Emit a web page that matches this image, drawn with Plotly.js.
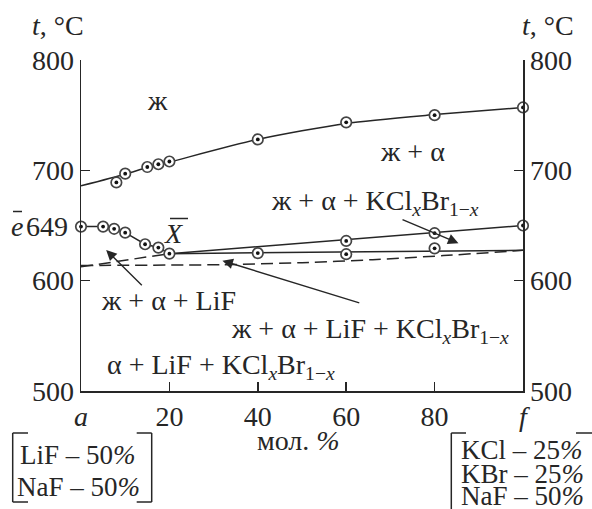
<!DOCTYPE html>
<html>
<head>
<meta charset="utf-8">
<script src="https://cdn.plot.ly/plotly-3.0.1.min.js"></script>
<style>
  html, body { margin: 0; padding: 0; background: #fff; }
  #chart { width: 592px; height: 509px; }
</style>
</head>
<body>
<div id="chart"></div>
<script>
// Liquidus (primary crystallisation of alpha) – measured points and fitted curve
const liquidusPtsX = [8, 10, 15, 17.5, 20, 40, 60, 80, 100];
const liquidusPtsY = [689, 697, 703, 705.5, 708, 728, 743.5, 750, 757];
const liquidusLineX = [0, 10, 15, 20, 40, 60, 80, 100];
const liquidusLineY = [686, 696.5, 702.5, 707.5, 728, 742.5, 750.5, 757];

// Secondary crystallisation branch from eutectic e (649) to point X
const branchX = [0, 5, 7.5, 10, 14.5, 17.5, 20];
const branchY = [649, 649, 647, 643.5, 633, 630, 624.5];

// Line X – f (alpha + KClxBr1-x co-crystallisation)
const upperLineX = [20, 100];
const upperLineY = [624.5, 650];
const upperPtsX = [60, 80, 100];
const upperPtsY = [636, 643, 650];

// Four-phase (alpha + LiF + KClxBr1-x) line
const lowerLineX = [20, 100];
const lowerLineY = [624.5, 627.5];
const lowerPtsX = [40, 60, 80];
const lowerPtsY = [625, 624, 629.3];

// Solidus lines (dashed)
const solidus1X = [0, 20];
const solidus1Y = [612.5, 624.5];
const solidus2X = [0, 32, 50, 66, 82, 100];
const solidus2Y = [613.8, 614.5, 616.3, 619, 622.7, 627.5];

// Axis ticks
const xTickVals = [0, 20, 40, 60, 80, 100];
const xTickText = ['<i>a</i>', '20', '40', '60', '80', '<i>f</i>'];
const yTickVals = [500, 600, 700, 800];
const eutecticT = 649;

const FONT = 'Liberation Serif';
const INK = '#262626';
const FS = 28;

// plot-area pixel frame, used to place text outside the axes
const L = 81, R = 523, T = 60, B = 391;
const px = v => (v - L) / (R - L);
const py = v => (B - v) / (B - T);

function line(x, y, opts) {
  return Object.assign({
    x: x, y: y, mode: 'lines', type: 'scatter', hoverinfo: 'skip',
    line: { color: INK, width: 1.5 }, showlegend: false, cliponaxis: false
  }, opts || {});
}
function ring(x, y) {
  return {
    x: x, y: y, mode: 'markers', type: 'scatter', hoverinfo: 'skip', showlegend: false, cliponaxis: false,
    marker: { symbol: 'circle', size: 10.5, color: '#fff', line: { color: '#444', width: 1.7 } }
  };
}
function dot(x, y) {
  return {
    x: x, y: y, mode: 'markers', type: 'scatter', hoverinfo: 'skip', showlegend: false, cliponaxis: false,
    marker: { symbol: 'circle', size: 3.8, color: '#111' }
  };
}

const traces = [
  line(solidus1X, solidus1Y, { line: { color: INK, width: 1.5, dash: '12px,6px' } }),
  line(solidus2X, solidus2Y, { line: { color: INK, width: 1.5, dash: '12px,6px', shape: 'spline', smoothing: 0.6 } }),
  line(liquidusLineX, liquidusLineY, { line: { color: INK, width: 1.5, shape: 'spline', smoothing: 0.7 } }),
  line(branchX, branchY),
  line(upperLineX, upperLineY),
  line(lowerLineX, lowerLineY),
  ring(liquidusPtsX, liquidusPtsY), dot(liquidusPtsX, liquidusPtsY),
  ring(branchX, branchY), dot(branchX, branchY),
  ring(upperPtsX, upperPtsY), dot(upperPtsX, upperPtsY),
  ring(lowerPtsX, lowerPtsY), dot(lowerPtsX, lowerPtsY),
  // carrier for the right-hand temperature axis
  { x: [100], y: [upperPtsY[upperPtsY.length - 1]], yaxis: 'y2', mode: 'markers', type: 'scatter',
    marker: { opacity: 0 }, hoverinfo: 'skip', showlegend: false }
];

function txt(text, x, y, extra) {
  return Object.assign({
    text: text, x: x, y: y, xref: 'x', yref: 'y', showarrow: false,
    xanchor: 'center', yanchor: 'middle', font: { family: FONT, size: FS, color: INK }
  }, extra || {});
}
function ptxt(text, x, y, extra) {
  return txt(text, px(x), py(y), Object.assign({ xref: 'paper', yref: 'paper' }, extra || {}));
}
function arrow(hx, hy, tx, ty) {
  return {
    x: hx, y: hy, ax: tx, ay: ty, xref: 'x', yref: 'y', axref: 'x', ayref: 'y',
    text: '', showarrow: true, arrowhead: 2, arrowsize: 1.5, arrowwidth: 1.4, arrowcolor: INK
  };
}

const KClBr = 'KCl<sub><i>x</i></sub>Br<sub>1−<i>x</i></sub>';
const boxFont = { family: FONT, size: 27, color: INK };

const annotations = [
  txt('ж', 17.4, 763.7),
  txt('ж + α', 75.1, 717.5),
  txt('ж + α + ' + KClBr, 66.5, 671),
  txt('<i>X</i>', 21, 643),
  txt('ж + α + LiF', 19.9, 582.4),
  txt('ж + α + LiF + ' + KClBr, 65.4, 555),
  txt('α + LiF + ' + KClBr, 31.6, 522),
  arrow(5.7, 627.8, 14.1, 594.5),
  arrow(32.0, 618.1, 63.3, 579.5),
  arrow(85.4, 633.9, 72.4, 655.9),
  // outside labels
  ptxt('<i>t</i>, °C', 58, 26),
  ptxt('<i>t</i>, °C', 548, 26),
  txt('<i>e</i>', px(17.2), eutecticT, { xref: 'paper' }),
  txt(String(eutecticT), px(69.5), eutecticT, { xref: 'paper', xanchor: 'right' }),
  ptxt('мол. <i>%</i>', 298, 440),
  ptxt('LiF – 50<i>%</i>', 78, 455, { font: boxFont }),
  ptxt('NaF – 50<i>%</i>', 78, 487, { font: boxFont }),
  ptxt('KCl – 25<i>%</i>', 459, 450, { xanchor: 'left', font: boxFont }),
  ptxt('KBr – 25<i>%</i>', 459, 473.5, { xanchor: 'left', font: boxFont }),
  ptxt('NaF – 50<i>%</i>', 459, 496, { xanchor: 'left', font: boxFont })
];

function seg(x0, y0, x1, y1) {
  return { type: 'line', xref: 'paper', yref: 'paper', x0: px(x0), y0: py(y0), x1: px(x1), y1: py(y1),
           line: { color: INK, width: 1.5 } };
}
const shapes = [
  // overbars on e and X
  seg(13, 211.5, 22, 211.5),
  seg(170, 218.5, 188, 218.5),
  // bracket round the LiF–NaF composition
  seg(12.7, 433, 12.7, 502), seg(12.7, 433, 28, 433), seg(12.7, 502, 28, 502),
  seg(151.7, 433, 151.7, 502), seg(136.7, 433, 151.7, 433), seg(136.7, 502, 151.7, 502),
  // bracket round the KCl–KBr–NaF composition
  seg(451.3, 433, 451.3, 512), seg(451.3, 433, 466, 433), seg(576, 433, 600, 433)
];

const axisCommon = {
  showgrid: false, zeroline: false, showline: true, linecolor: INK, linewidth: 1.5,
  ticks: 'inside', ticklen: 9, tickwidth: 1.5, tickcolor: INK,
  tickfont: { family: FONT, size: FS, color: INK }
};

const layout = {
  width: 592, height: 509,
  margin: { l: L, r: 592 - R, t: T, b: 509 - B, pad: 0 },
  paper_bgcolor: '#fff', plot_bgcolor: '#fff',
  showlegend: false,
  font: { family: FONT, size: FS, color: INK },
  xaxis: Object.assign({}, axisCommon, {
    range: [0, 100], tickmode: 'array', tickvals: xTickVals, ticktext: xTickText
  }),
  yaxis: Object.assign({}, axisCommon, {
    range: [500, 800], tickmode: 'array', tickvals: yTickVals
  }),
  yaxis2: Object.assign({}, axisCommon, {
    range: [500, 800], tickmode: 'array', tickvals: yTickVals,
    overlaying: 'y', side: 'right', anchor: 'x'
  }),
  annotations: annotations,
  shapes: shapes
};

Plotly.newPlot('chart', traces, layout, { staticPlot: true, displayModeBar: false });
</script>
</body>
</html>
